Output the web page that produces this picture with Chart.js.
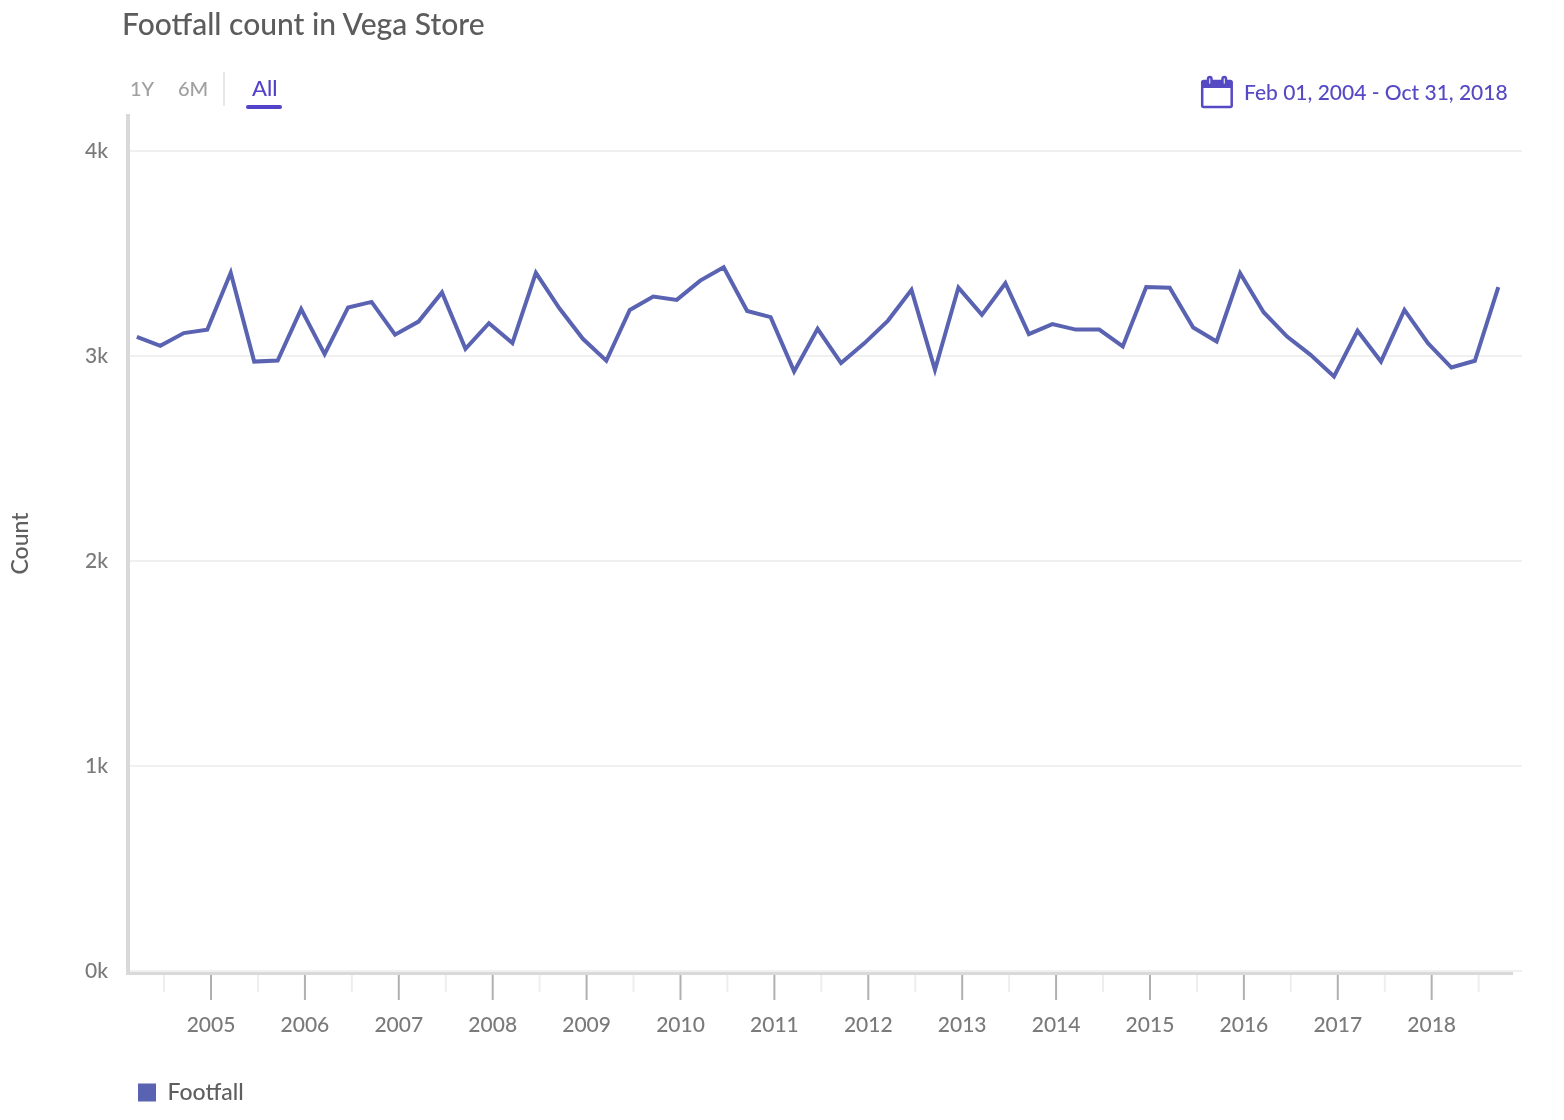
<!DOCTYPE html>
<html>
	<head>
		<meta charset="utf-8">
		<title>Footfall count in Vega Store</title>
		<script src="https://cdn.jsdelivr.net/npm/chart.js@4"></script>
		<style>
			html, body { margin: 0; padding: 0; background: #fff; }
			body { width: 1564px; height: 1120px; position: relative; overflow: hidden; font-family: Lato, sans-serif; font-weight: 500; }
			canvas { position: absolute; left: 0; top: 0; }
			.txt { position: absolute; white-space: nowrap; line-height: 1; }
			#title { left: 122px; top: 8px; font-size: 30px; color: #5c5c5c; font-weight: 500; margin: 0; }
			.range { top: 78px; font-size: 20px; color: #a0a0a0; }
			#all { left: 252px; top: 77px; font-size: 22px; color: #5243c9; }
			#divider { position: absolute; left: 223px; top: 72px; width: 2px; height: 34px; background: #e8e8e8; }
			#underline { position: absolute; left: 246px; top: 105px; width: 36px; height: 4px; border-radius: 2px; background: #5243c9; }
			#dates { left: 1244px; top: 81px; font-size: 21px; color: #5549c4; }
			#cal { position: absolute; left: 1200px; top: 75px; }
		</style>
	</head>
	<body>
		<canvas id="myChart" width="1564" height="1120"></canvas>
		<h1 id="title" class="txt">Footfall count in Vega Store</h1>
		<div class="txt range" style="left:130px">1Y</div>
		<div class="txt range" style="left:178px">6M</div>
		<div id="divider"></div>
		<div id="all" class="txt">All</div>
		<div id="underline"></div>
		<svg id="cal" width="34" height="34" viewBox="0 0 34 34" fill="none" stroke="#5549c4" stroke-width="2.5">
			<rect x="2.2" y="6" width="29.5" height="26" rx="1.5"/>
			<path d="M2.2 6h29.5v7H2.2z" fill="#5549c4" stroke="none"/>
			<rect x="8" y="2" width="3.5" height="8" rx="1.7" fill="#fff"/>
			<rect x="22.5" y="2" width="3.5" height="8" rx="1.7" fill="#fff"/>
		</svg>
		<div id="dates" class="txt">Feb 01, 2004 - Oct 31, 2018</div>
		<script>
			var periods = [
				2004.21, 2004.46, 2004.71, 2004.96,
				2005.21, 2005.46, 2005.71, 2005.96,
				2006.21, 2006.46, 2006.71, 2006.96,
				2007.21, 2007.46, 2007.71, 2007.96,
				2008.21, 2008.46, 2008.71, 2008.96,
				2009.21, 2009.46, 2009.71, 2009.96,
				2010.21, 2010.46, 2010.71, 2010.96,
				2011.21, 2011.46, 2011.71, 2011.96,
				2012.21, 2012.46, 2012.71, 2012.96,
				2013.21, 2013.46, 2013.71, 2013.96,
				2014.21, 2014.46, 2014.71, 2014.96,
				2015.21, 2015.46, 2015.71, 2015.96,
				2016.21, 2016.46, 2016.71, 2016.96,
				2017.21, 2017.46, 2017.71, 2017.96,
				2018.21, 2018.46, 2018.71
			];
			var footfall = [
				3093, 3050, 3112, 3128,
				3406, 2973, 2978, 3229,
				3009, 3237, 3264, 3104,
				3168, 3310, 3035, 3160,
				3063, 3406, 3233, 3084,
				2977, 3225, 3290, 3274,
				3368, 3433, 3220, 3190,
				2925, 3133, 2966, 3063,
				3173, 3323, 2933, 3334,
				3201, 3355, 3107, 3156,
				3129, 3129, 3047, 3337,
				3333, 3139, 3071, 3404,
				3214, 3095, 3006, 2900,
				3123, 2973, 3225, 3063,
				2944, 2977, 3336
			];
			var countTicks = [0, 1000, 2000, 3000, 4000];

			var fontName = 'Lato, sans-serif';
			var lineColor = '#5a62b2';

			// year ticks are long and dark, half year ticks short and pale. chart.js has one tickLength per scale
			var axisMarks = {
				id: 'axisMarks',
				beforeDatasetsDraw: function (chart) {
					var x = chart.scales.x;
					var ctx = chart.ctx;
					var bottom = chart.chartArea.bottom;
					ctx.save();
					x.ticks.forEach(function (t) {
						var px = x.getPixelForValue(t.value);
						var major = Number.isInteger(t.value);
						ctx.strokeStyle = major ? '#b0b0b0' : '#eeeeee';
						ctx.lineWidth = 2;
						ctx.beginPath();
						ctx.moveTo(px, bottom + 3);
						ctx.lineTo(px, bottom + (major ? 29 : 21));
						ctx.stroke();
					});
					ctx.strokeStyle = '#d9d9d9';
					ctx.lineWidth = 3;
					ctx.beginPath();
					ctx.moveTo(x.left - 2, bottom + 2.5);
					ctx.lineTo(x.getPixelForValue(2018.866), bottom + 2.5);
					ctx.stroke();
					ctx.restore();
				},
				afterLayout: function (chart) {
					chart.legend.left = chart.chartArea.left;
				}
			};

			var chart = new Chart(document.getElementById('myChart'), {
				type: 'line',
				data: {
					datasets: [{
						label: 'Footfall',
						data: periods.map(function (p, i) { return { x: p, y: footfall[i] }; }),
						borderColor: lineColor,
						backgroundColor: lineColor,
						borderWidth: 4,
						pointRadius: 0,
						tension: 0,
						fill: false
					}]
				},
				plugins: [axisMarks],
				options: {
					responsive: false,
					animation: { duration: 0 },
					layout: { padding: { top: 116, right: 42, bottom: 6, left: 0 } },
					plugins: {
						legend: {
							position: 'bottom',
							align: 'start',
							labels: {
								boxWidth: 18,
								boxHeight: 18,
								padding: 10,
								color: '#5f5f5f',
								font: { family: fontName, size: 23, weight: '500' },
								generateLabels: function (c) {
									return Chart.defaults.plugins.legend.labels.generateLabels(c).map(function (item) {
										item.lineWidth = 0;
										return item;
									});
								}
							}
						},
						tooltip: { enabled: false }
					},
					scales: {
						x: {
							type: 'linear',
							min: 2004.116,
							max: 2018.962,
							afterFit: function (scale) { scale.height = 100; },
							border: { display: false },
							grid: { display: false },
							ticks: {
								stepSize: 0.5,
								includeBounds: false,
								autoSkip: false,
								maxRotation: 0,
								padding: 34,
								color: '#7a7a7a',
								font: { family: fontName, size: 21, weight: '500' },
								callback: function (v) { return Number.isInteger(v) ? String(v) : ''; }
							}
						},
						y: {
							min: 0,
							max: 4171,
							afterFit: function (scale) { scale.width = 128; },
							afterBuildTicks: function (scale) {
								scale.ticks = countTicks.map(function (v) { return { value: v }; });
							},
							border: { display: true, color: '#d9d9d9', width: 4 },
							grid: { color: '#f0f0f0', lineWidth: 2, drawTicks: false },
							title: {
								display: true,
								text: 'Count',
								color: '#5f5f5f',
								padding: { top: 7, bottom: 0 },
								font: { family: fontName, size: 23, weight: '500' }
							},
							ticks: {
								padding: 20,
								color: '#7a7a7a',
								font: { family: fontName, size: 21, weight: '500' },
								callback: function (v) { return (v / 1000) + 'k'; }
							}
						}
					}
				}
			});
		</script>
	</body>
</html>
